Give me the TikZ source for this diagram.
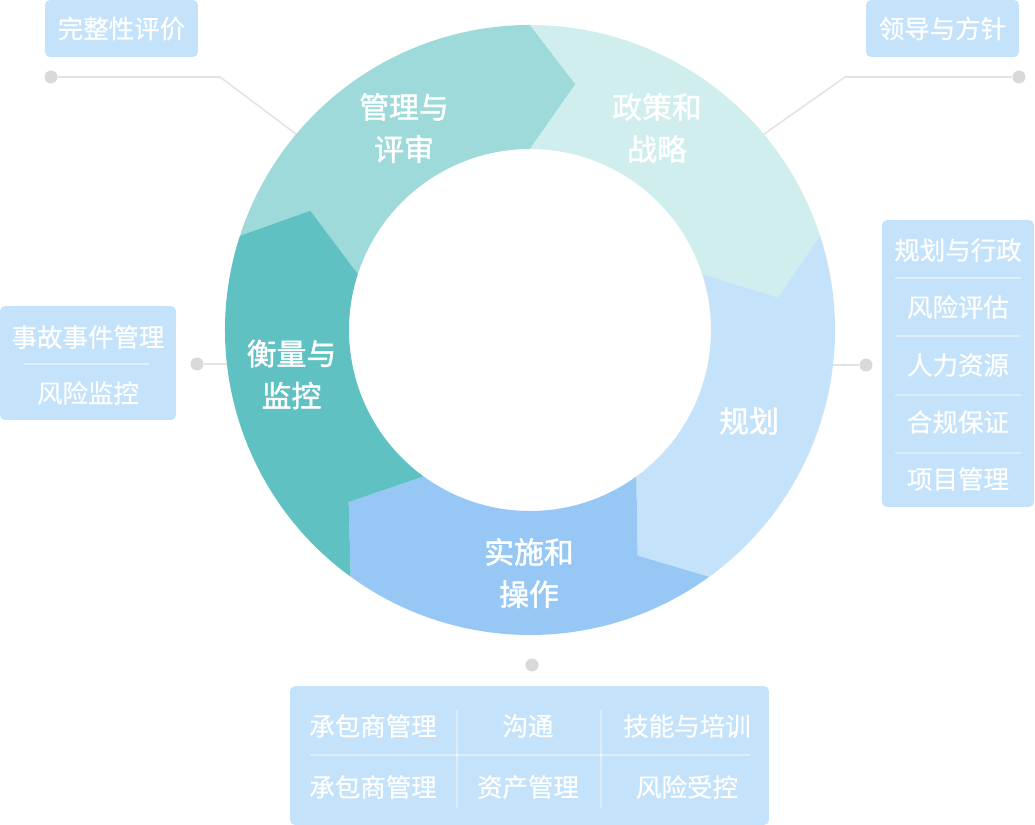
\documentclass[tikz,border=0pt]{standalone}
\usepackage{fontspec}
\newfontfamily\cjk{Noto Sans CJK SC}[RawFeature={embolden=0.5}]
\newfontfamily\cjkmed{Noto Sans CJK SC}[RawFeature={embolden=1.5}]
\usetikzlibrary{calc}

\definecolor{segA}{HTML}{9EDADA}
\definecolor{segB}{HTML}{D0EEED}
\definecolor{segC}{HTML}{C4E3FA}
\definecolor{segD}{HTML}{97C8F5}
\definecolor{segE}{HTML}{5FC1C1}
\definecolor{boxfill}{HTML}{C4E3FA}
\definecolor{leadline}{HTML}{E3E3E3}
\definecolor{dotgray}{HTML}{D9D9D9}

% one arrow-shaped ring segment: start angle, end angle (clockwise), colour
\newcommand\ringseg[3]{%
  \fill[#3] (#1:305) arc[start angle=#1, end angle=#2, radius=305]
    -- ({#2-10.5}:250) -- (#2:181)
    arc[start angle=#2, end angle=#1, radius=181]
    -- ({#1-10.5}:250) -- cycle;}

\begin{document}
\begin{tikzpicture}[x=0.02cm, y=0.02cm,
  seglabel/.style={text=white, font=\cjkmed\fontsize{17}{24}\selectfont, align=center, inner sep=0pt},
  boxtext/.style={text=white, font=\cjk\fontsize{14.5}{17}\selectfont, inner sep=0pt},
  infobox/.style={fill=boxfill, rounded corners=0.1cm, inner sep=0pt},
  lead/.style={draw=leadline, line width=0.9pt},
  sep/.style={draw=white, draw opacity=0.4, line width=0.6pt},
  leaddot/.style={circle, fill=dotgray, inner sep=0pt, minimum size=0.26cm}]

\useasboundingbox (0,0) rectangle (1035,825);

% ring centre and the points where leader lines run under the ring
\coordinate (c) at (530,495);
\begin{scope}[shift={(c)}]
  \coordinate (r-tl) at (140:300);
  \coordinate (r-tr) at (40:300);
  \coordinate (r-r) at (290,-35);
  \coordinate (r-l) at (-290,-34);
\end{scope}
\coordinate (k1) at (220,748);
\coordinate (k2) at (845,748);

% leader dots
\node[leaddot] (d1) at (51,748) {};
\node[leaddot] (d2) at (1019,748) {};
\node[leaddot] (d3) at (866,460) {};
\node[leaddot] (d4) at (197,461) {};
\node[leaddot] (d5) at (532,160) {};

% leader lines
\draw[lead] (d1) -- (k1) -- (r-tl);
\draw[lead] (d2) -- (k2) -- (r-tr);
\draw[lead] (d3) -- (r-r);
\draw[lead] (d4) -- (r-l);

% the cycle ring
\begin{scope}[shift={(c)}]
  \ringseg{162}{90}{segA}
  \ringseg{90}{18}{segB}
  \ringseg{18}{-54}{segC}
  \ringseg{-54}{-126}{segD}
  \ringseg{-126}{-198}{segE}
\end{scope}

% ring labels
\node[seglabel] (s1) at (404,697) {管理与\\评审};
\node[seglabel] (s2) at (657,697) {政策和\\战略};
\node[seglabel] (s3) at (749,404) {规划};
\node[seglabel] (s4) at (529,252) {实施和\\操作};
\node[seglabel] (s5) at (291.5,450.5) {衡量与\\监控};

% top boxes
\node[infobox, minimum width=3.06cm, minimum height=1.14cm] (b1) at (121.5,796.5) {};
\node[boxtext] (t1) at (b1) {完整性评价};
\node[infobox, minimum width=3.06cm, minimum height=1.14cm] (b2) at (942.5,796.5) {};
\node[boxtext] (t2) at (b2) {领导与方针};

% right box
\node[infobox, minimum width=3.04cm, minimum height=5.74cm] (b3) at (958,461.5) {};
\node[boxtext] (t3a) at (958,575) {规划与行政};
\node[boxtext] (t3b) at (958,518) {风险评估};
\node[boxtext] (t3c) at (958,460) {人力资源};
\node[boxtext] (t3d) at (958,403) {合规保证};
\node[boxtext] (t3e) at (958,346) {项目管理};
\foreach \y in {547,489,430,372} \draw[sep] (895,\y) -- (1021,\y);

% left box
\node[infobox, minimum width=3.52cm, minimum height=2.28cm] (b4) at (88,462) {};
\node[boxtext] (t4a) at (88,488) {事故事件管理};
\node[boxtext] (t4b) at (88,432) {风险监控};
\draw[sep] (24,461) -- (149,461);

% bottom box
\node[infobox, minimum width=9.58cm, minimum height=2.78cm] (b5) at (529.5,69.5) {};
\node[boxtext] (t5a) at (373,99) {承包商管理};
\node[boxtext] (t5b) at (528,99) {沟通};
\node[boxtext] (t5c) at (687,99) {技能与培训};
\node[boxtext] (t5d) at (373,38) {承包商管理};
\node[boxtext] (t5e) at (528,38) {资产管理};
\node[boxtext] (t5f) at (687,38) {风险受控};
\draw[sep] (310,70) -- (750,70);
\draw[sep] (457,115) -- (457,17);
\draw[sep] (601,115) -- (601,17);
\end{tikzpicture}
\end{document}
